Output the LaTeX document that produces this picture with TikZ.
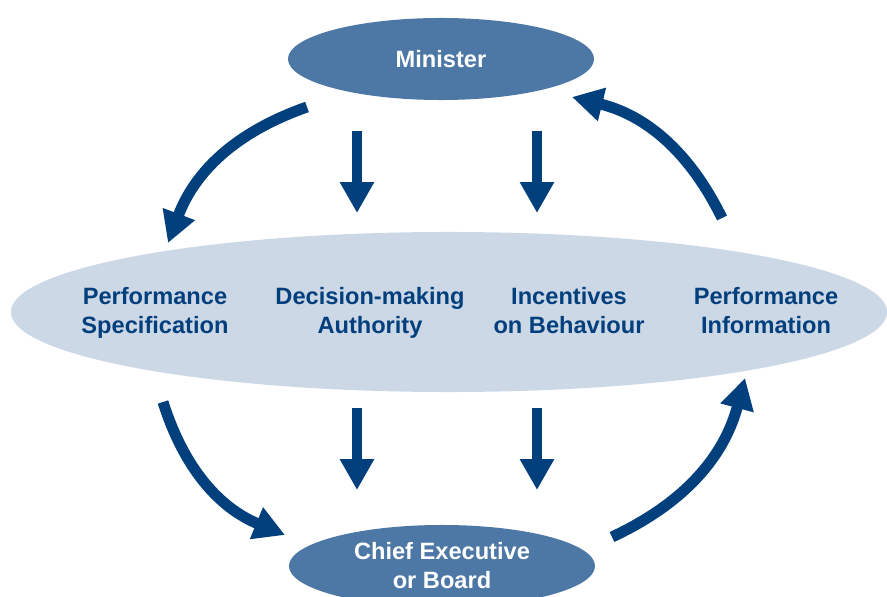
\documentclass[tikz,border=0pt]{standalone}
\usepackage{fontspec}
\setmainfont{Liberation Sans}
\usetikzlibrary{shapes.geometric,arrows.meta}
\definecolor{navy}{HTML}{023F7D}
\definecolor{midblue}{HTML}{4D77A5}
\definecolor{paleblue}{HTML}{CDD8E6}
\begin{document}
\begin{tikzpicture}[x=0.025cm, y=-0.025cm,
    every node/.style={font=\bfseries\fontsize{16.8}{20.6}\selectfont, align=center},
    smallell/.style={ellipse, fill=midblue, text=white, inner sep=0pt, minimum width=7.65cm, minimum height=2.05cm},
    bigell/.style={ellipse, fill=paleblue, inner sep=0pt, minimum width=21.9cm, minimum height=4cm},
    label/.style={text=navy, execute at end node=\strut},
    bigarrow/.style={navy, line width=7.8pt, -{Triangle[length=22pt, width=23pt]}}]
            \useasboundingbox (0,0) rectangle (887,597);

            % Draw the ellipses
            \node[bigell] (cen) at (449,312) {};
            \node[smallell] (min) at (441,59) {Minister};
            \node[smallell] (ceo) at (442,566) {Chief Executive\\or Board};

            % Draw the labels inside the big ellipse
            \node[label] (spec) at (155,315) {Performance\\Specification};
            \node[label] (auth) at (370,315) {Decision-making\\Authority};
            \node[label] (incent) at (569,315) {Incentives\\on Behaviour};
            \node[label] (info) at (766,315) {Performance\\Information};

            % Arrow ends
            \coordinate (minL) at (307,107);
            \coordinate (specT) at (168,243);
            \coordinate (specB) at (163,402);
            \coordinate (ceoL) at (285,535);
            \coordinate (ceoR) at (612,537);
            \coordinate (infoB) at (745,378);
            \coordinate (infoT) at (722,218);
            \coordinate (minR) at (572,97);
            \coordinate (authT1) at (357,131);
            \coordinate (authT2) at (357,213);
            \coordinate (incT1) at (537,131);
            \coordinate (incT2) at (537,213);
            \coordinate (authB1) at (357,408);
            \coordinate (authB2) at (357,490);
            \coordinate (incB1) at (537,408);
            \coordinate (incB2) at (537,490);

            % Draw the curved arrows
            \draw[bigarrow] (minL) to[bend right=25] (specT);
            \draw[bigarrow] (specB) to[bend right=25] (ceoL);
            \draw[bigarrow] (ceoR) to[bend right=25] (infoB);
            \draw[bigarrow] (infoT) to[bend right=25] (minR);

            % Draw the straight arrows
            \draw[bigarrow] (authT1) -- (authT2);
            \draw[bigarrow] (incT1) -- (incT2);
            \draw[bigarrow] (authB1) -- (authB2);
            \draw[bigarrow] (incB1) -- (incB2);
\end{tikzpicture}
\end{document}
